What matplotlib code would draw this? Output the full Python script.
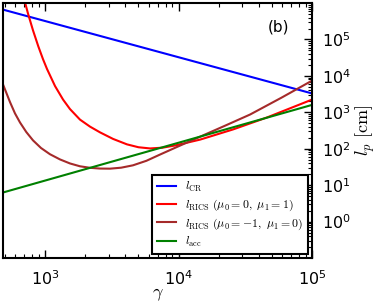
import numpy as np
import matplotlib
matplotlib.use('Agg')
import matplotlib.pyplot as plt

plt.rcParams['mathtext.fontset'] = 'cm'

# values (gamma, l_p in cm)
gamma_cr = [485, 1e5]
l_cr = [6.6e5, 3.3e3]

gamma_acc = [485, 1e5]
l_acc = [6.3, 1.6e3]

gamma_rics1 = [708, 746, 813, 891, 966, 1035, 1189, 1365, 1538, 1828, 2173,
               2582, 3236, 4111, 5012, 6124, 7586, 9419, 14490, 25590, 46030, 1e5]
l_rics1 = [1.05e6, 5.13e5, 1.78e5, 6.46e4, 2.88e4, 1.55e4, 5.25e3, 2.24e3, 1.23e3, 631, 405,
           282, 186, 132, 110, 102, 107, 123, 178, 339, 724, 2239]

gamma_rics2 = [485, 547, 596, 650, 724, 813, 933, 1089, 1294, 1538, 1828, 2173,
               2582, 3069, 3715, 4560, 5754, 7261, 10000, 14490, 22390, 34360, 58880, 1e5]
l_rics2 = [5.8e3, 1905, 933, 525, 288, 170, 105, 70.8, 51.0, 39.5, 33.0, 30.0,
           28.6, 28.4, 30.2, 35.1, 46.8, 69.2, 117, 214, 432, 871, 2512, 7413]

fig = plt.figure(figsize=(3.81, 3.05), dpi=100)
ax = fig.add_axes([0.008, 0.154, 0.811, 0.836])

ax.loglog(gamma_cr, l_cr, color='b', lw=1.5, label=r'$l_{\rm CR}$')
ax.loglog(gamma_rics1, l_rics1, color='r', lw=1.5, label=r'$l_{\rm RICS}\ (\mu_0=0,\ \mu_1=1)$')
ax.loglog(gamma_rics2, l_rics2, color='brown', lw=1.5, label=r'$l_{\rm RICS}\ (\mu_0=-1,\ \mu_1=0)$')
ax.loglog(gamma_acc, l_acc, color='g', lw=1.5, label=r'$l_{\rm acc}$')

ax.set_xlim(485, 1e5)
ax.set_ylim(0.1, 1e6)

ax.yaxis.tick_right()
ax.yaxis.set_label_position('right')
ax.tick_params(which='both', direction='in', top=True, bottom=True, right=True, left=False, labelsize=11.5)
ax.tick_params(which='major', length=6, width=1)
ax.tick_params(which='minor', length=3, width=0.8)
ax.tick_params(axis='x', which='major', pad=8)
ax.tick_params(axis='y', which='major', pad=7)
ax.set_yticks([1, 10, 100, 1e3, 1e4, 1e5])
for s in ax.spines.values():
    s.set_linewidth(1.5)

ax.set_xlabel(r'$\gamma$', fontsize=13, labelpad=-2)
ax.set_ylabel(r'$l_p\ [\rm cm]$', fontsize=13, labelpad=2)

ax.text(0.89, 0.905, '(b)', transform=ax.transAxes, fontsize=11, ha='center', va='center')

leg = ax.legend(loc='lower right', fontsize=8.5, handlelength=1.6, fancybox=False,
                borderaxespad=0.35, labelspacing=0.3, framealpha=1, edgecolor='black')
leg.get_frame().set_linewidth(1.5)

fig.savefig('out.png', dpi=100)
